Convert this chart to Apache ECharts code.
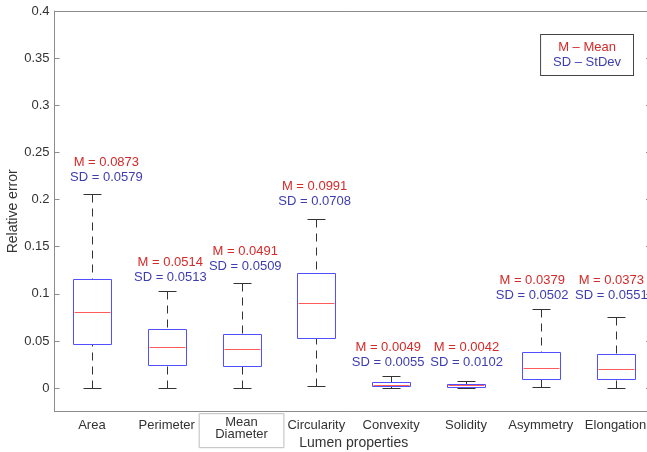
<!DOCTYPE html>
<html><head><meta charset="utf-8">
<script src="https://cdn.jsdelivr.net/npm/echarts@6/dist/echarts.min.js"></script>
<style>html,body{margin:0;padding:0;background:#fff}#c{width:647px;height:452px}</style>
</head><body><div id="c"></div>
<script>
const categories = ['Area', 'Perimeter', 'Mean\nDiameter', 'Circularity', 'Convexity', 'Solidity', 'Asymmetry', 'Elongation'];
const whiskerLow = [0, 0, 0, 0.0024, 0, 0, 0.001, 0];
const q1 = [0.0466, 0.0244, 0.0236, 0.0533, 0.0024, 0.0017, 0.0095, 0.0095];
const medians = [0.0809, 0.0434, 0.0420, 0.0901, 0.0035, 0.0032, 0.0215, 0.0201];
const q3 = [0.1162, 0.0622, 0.0579, 0.1226, 0.0064, 0.0046, 0.0388, 0.0360];
const whiskerHigh = [0.2055, 0.1031, 0.1118, 0.1798, 0.0127, 0.0077, 0.0837, 0.0753];
const means = [0.0873, 0.0514, 0.0491, 0.0991, 0.0049, 0.0042, 0.0379, 0.0373];
const stdevs = [0.0579, 0.0513, 0.0509, 0.0708, 0.0055, 0.0102, 0.0502, 0.0551];
const yTicks = [0, 0.05, 0.1, 0.15, 0.2, 0.25, 0.3, 0.35, 0.4];
// annotation anchors (value units; horizontal shift in fractions of a category band)
const annotValue = [0.2314, 0.1252, 0.1371, 0.2063, 0.0353, 0.0353, 0.1058, 0.1058];
const annotShift = [0.193, 0.048, 0.05, -0.023, -0.04, 0.008, -0.115, -0.057];

const FONT = "'Liberation Sans', Arial, sans-serif";
const RED = '#d42a2a', BLUE = '#3d3db0';
const AXIS = '#8c8c8c', TXT = '#333333';

const chart = echarts.init(document.getElementById('c'), null, {renderer: 'canvas'});

const xData = categories.map(c => c === 'Mean\nDiameter'
  ? {value: c, textStyle: {borderColor: '#bdbdbd', borderWidth: 1, padding: [3, 16, 7, 16], lineHeight: 12}}
  : c);

function renderBox(params, api) {
  const i = api.value(0);
  const band = api.size([1, 0])[0];
  const x = Math.round(api.coord([i, 0])[0]) + 0.5;
  const yy = k => Math.round(api.coord([i, api.value(k)])[1]) + 0.5;
  const yLo = yy(1), yQ1 = yy(2), yMed = yy(3), yQ3 = yy(4), yHi = yy(5);
  const hb = Math.round(band * 0.25), hc = Math.round(band * 0.125);
  const dash = {stroke: '#333', lineWidth: 1, lineDash: [8, 6]};
  const solid = {stroke: '#333', lineWidth: 1};
  return {type: 'group', children: [
    {type: 'line', shape: {x1: x, y1: yHi, x2: x, y2: yQ3}, style: dash},
    {type: 'line', shape: {x1: x, y1: yLo, x2: x, y2: yQ1}, style: dash},
    {type: 'line', shape: {x1: x - hc, y1: yHi, x2: x + hc, y2: yHi}, style: solid},
    {type: 'line', shape: {x1: x - hc, y1: yLo, x2: x + hc, y2: yLo}, style: solid},
    {type: 'rect', shape: {x: x - hb, y: yQ3, width: 2 * hb, height: yQ1 - yQ3}, style: {fill: 'none', stroke: '#5050ff', lineWidth: 1}},
    {type: 'line', shape: {x1: x - hb + 1, y1: yMed, x2: x + hb - 1, y2: yMed}, style: {stroke: '#ff5a5a', lineWidth: 1}}
  ]};
}

function renderAnnot(params, api) {
  const i = api.value(0);
  const band = api.size([1, 0])[0];
  const p = api.coord([i, api.value(1)]);
  return {type: 'text', x: p[0] + annotShift[i] * band, y: p[1], style: {
    text: '{m|M = ' + means[i].toFixed(4) + '}\n{s|SD = ' + stdevs[i].toFixed(4) + '}',
    align: 'center', verticalAlign: 'middle',
    rich: {
      m: {fill: RED, fontSize: 13, lineHeight: 15, fontFamily: FONT, align: 'center'},
      s: {fill: BLUE, fontSize: 13, lineHeight: 15, fontFamily: FONT, align: 'center'}
    }
  }};
}

const fmt = v => String(+v.toFixed(3));

chart.setOption({
  animation: false,
  backgroundColor: '#fff',
  grid: {left: 54.5, right: -6, top: 11, bottom: 40.3, containLabel: false, outerBoundsMode: 'none'},
  xAxis: [{
    type: 'category', position: 'bottom', data: xData, boundaryGap: true,
    name: 'Lumen properties', nameLocation: 'middle', nameGap: 24, nameMoveOverlap: false,
    nameTextStyle: {fontSize: 14, color: TXT, fontFamily: FONT},
    axisLine: {onZero: false, lineStyle: {color: AXIS}},
    axisTick: {inside: true, alignWithLabel: true, length: 5, lineStyle: {color: AXIS}},
    axisLabel: {fontSize: 13, color: TXT, fontFamily: FONT, margin: 2, padding: [4, 0, 0, 0], lineHeight: 15, interval: 0},
    splitLine: {show: false}
  }, {
    type: 'category', position: 'top', data: categories, boundaryGap: true,
    axisLine: {onZero: false, lineStyle: {color: AXIS}},
    axisTick: {inside: true, alignWithLabel: true, length: 5, lineStyle: {color: AXIS}},
    axisLabel: {show: false}, splitLine: {show: false}
  }],
  yAxis: [{
    type: 'value', position: 'left', min: -0.025, max: 0.4,
    name: 'Relative error', nameLocation: 'middle', nameGap: 34, nameMoveOverlap: false,
    nameTextStyle: {fontSize: 14, color: TXT, fontFamily: FONT},
    axisLine: {show: true, onZero: false, lineStyle: {color: AXIS}},
    axisTick: {show: true, inside: true, length: 5, customValues: yTicks, lineStyle: {color: AXIS}},
    axisLabel: {customValues: yTicks, formatter: fmt, fontSize: 13, color: TXT, fontFamily: FONT, margin: 5},
    splitLine: {show: false}
  }, {
    type: 'value', position: 'right', min: -0.025, max: 0.4,
    axisLine: {show: true, onZero: false, lineStyle: {color: AXIS}},
    axisTick: {show: true, inside: true, length: 7, customValues: yTicks, lineStyle: {color: AXIS}},
    axisLabel: {show: false}, splitLine: {show: false}
  }],
  graphic: [{
    type: 'text', right: 13, top: 34, z: 100,
    style: {
      text: '{m|M \u2013 Mean}\n{s|SD \u2013 StDev}',
      align: 'center',
      padding: [5, 12, 5, 12], borderColor: '#444', borderWidth: 1, backgroundColor: '#fff',
      rich: {
        m: {fill: RED, fontSize: 13, lineHeight: 15, fontFamily: FONT, align: 'center'},
        s: {fill: BLUE, fontSize: 13, lineHeight: 15, fontFamily: FONT, align: 'center'}
      }
    }
  }],
  series: [{
    type: 'custom', xAxisIndex: 0, yAxisIndex: 0,
    renderItem: renderBox,
    encode: {x: 0, y: [1, 2, 3, 4, 5]},
    data: categories.map((c, i) => [i, whiskerLow[i], q1[i], medians[i], q3[i], whiskerHigh[i]]),
    silent: true
  }, {
    type: 'custom', xAxisIndex: 0, yAxisIndex: 0,
    renderItem: renderAnnot,
    encode: {x: 0, y: 1},
    data: categories.map((c, i) => [i, annotValue[i]]),
    silent: true
  }]
});
</script>
</body></html>
